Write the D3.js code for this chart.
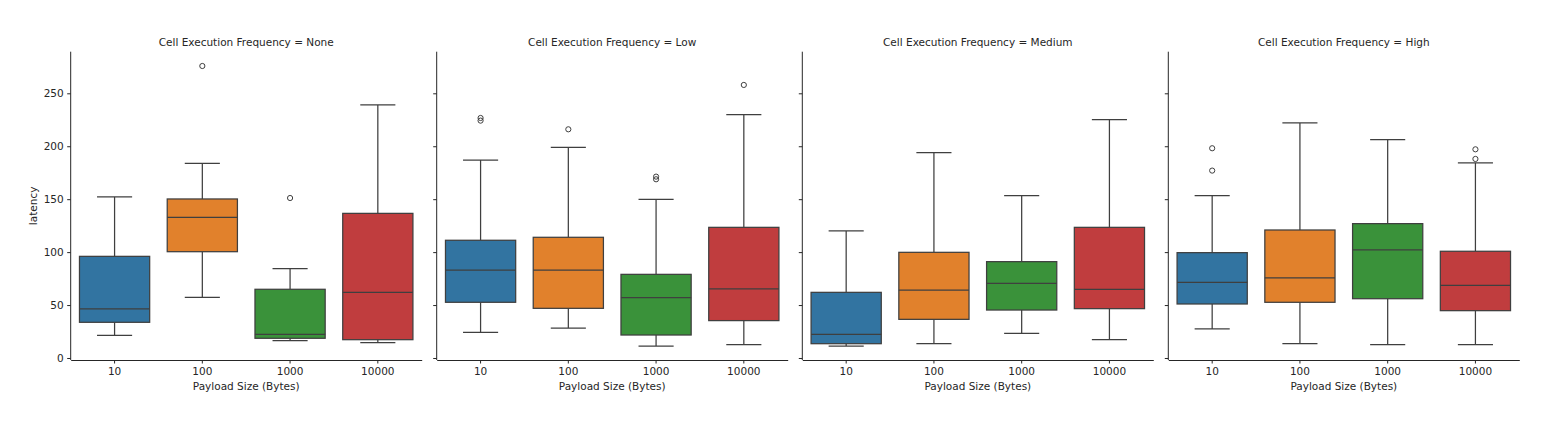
<!DOCTYPE html>
<html>
<head>
<meta charset="utf-8">
<script src="https://cdn.jsdelivr.net/npm/d3@7"></script>
<style>
  body { margin: 0; background: #fff; }
  text { font-family: "DejaVu Sans", sans-serif; fill: #262626; }
</style>
</head>
<body>
<script>
// Facets and categories
var facets = ["None", "Low", "Medium", "High"];
var payloads = ["10", "100", "1000", "10000"];
var colors = ["#3274a1", "#e1812c", "#3a923a", "#c03d3e"];
var yTicks = [0, 50, 100, 150, 200, 250];

// Box stats per facet, one row per payload: [low whisker, q1, median, q3, high whisker]
var statsNone   = [[21.4, 33.7, 46.3, 96.0, 152.1], [57.3, 100.4, 132.9, 150.2, 183.9], [16.4, 18.6, 22.4, 64.9, 84.4], [14.5, 17.3, 62.0, 136.6, 239.0]];
var statsLow    = [[24.2, 52.6, 83.1, 111.2, 187.0], [28.3, 46.9, 83.1, 114.0, 199.0], [11.3, 21.7, 57.0, 79.0, 149.9], [12.6, 35.3, 65.2, 123.4, 229.8]];
var statsMedium = [[11.3, 13.5, 22.4, 62.0, 120.0], [13.5, 36.5, 64.2, 99.8, 193.9], [23.3, 45.3, 70.5, 91.0, 153.3], [17.3, 46.6, 64.9, 123.4, 225.1]];
var statsHigh   = [[27.4, 51.0, 71.5, 99.5, 153.3], [13.5, 52.6, 75.6, 120.9, 222.0], [12.6, 56.0, 102.0, 126.9, 206.2], [12.6, 44.7, 68.7, 100.8, 184.2]];

// Outliers per facet, one list per payload
var outNone   = [[], [275.8], [151.1], []];
var outLow    = [[226.7, 224.2], [216.0], [171.3, 168.8], [257.9]];
var outMedium = [[], [], [], []];
var outHigh   = [[198.1, 177.0], [], [], [197.1, 188.0]];

var allStats = [statsNone, statsLow, statsMedium, statsHigh];
var allOut = [outNone, outLow, outMedium, outHigh];

var W = 1548, H = 438;
var panelLeft = [70.7, 436.7, 802.3, 1168.3];
var panelW = 351;
var plotTop = 51.7, plotBottom = 360;
var lineColor = "#3f3f3f";
var fontSize = "10.5px";

var svg = d3.select("body").append("svg")
  .attr("width", W).attr("height", H);

var y = d3.scaleLinear().domain([-1.9, 289.3]).range([plotBottom, plotTop]);

facets.forEach(function(f, i) {
  var g = svg.append("g").attr("transform", "translate(" + panelLeft[i] + ",0)");
  var x = d3.scaleBand().domain(payloads).range([0, panelW]).paddingInner(0.2).paddingOuter(0.1);
  var stats = allStats[i], outs = allOut[i];

  payloads.forEach(function(p, j) {
    var s = stats[j];
    var x0 = x(p), bw = x.bandwidth(), cx = x0 + bw / 2;
    // whiskers
    g.append("line").attr("x1", cx).attr("x2", cx).attr("y1", y(s[0])).attr("y2", y(s[1]))
      .attr("stroke", lineColor).attr("stroke-width", 1.25);
    g.append("line").attr("x1", cx).attr("x2", cx).attr("y1", y(s[3])).attr("y2", y(s[4]))
      .attr("stroke", lineColor).attr("stroke-width", 1.25);
    // caps
    [s[0], s[4]].forEach(function(v) {
      g.append("line").attr("x1", cx - bw / 4).attr("x2", cx + bw / 4).attr("y1", y(v)).attr("y2", y(v))
        .attr("stroke", lineColor).attr("stroke-width", 1.25);
    });
    // box
    g.append("rect").attr("x", x0).attr("width", bw)
      .attr("y", y(s[3])).attr("height", y(s[1]) - y(s[3]))
      .attr("fill", colors[j]).attr("stroke", lineColor).attr("stroke-width", 1.25);
    // median
    g.append("line").attr("x1", x0).attr("x2", x0 + bw).attr("y1", y(s[2])).attr("y2", y(s[2]))
      .attr("stroke", lineColor).attr("stroke-width", 1.25);
    // fliers
    outs[j].forEach(function(v) {
      g.append("circle").attr("cx", cx).attr("cy", y(v)).attr("r", 2.6)
        .attr("fill", "none").attr("stroke", lineColor).attr("stroke-width", 1);
    });
  });

  // x axis
  var xAxis = g.append("g").attr("transform", "translate(0," + plotBottom + ")")
    .call(d3.axisBottom(x).tickSize(3.5).tickPadding(4.5).tickSizeOuter(0));
  xAxis.select(".domain").attr("stroke", "#262626").attr("stroke-width", 1);
  xAxis.selectAll(".tick line").attr("stroke", "#262626");
  xAxis.selectAll("text").attr("font-size", fontSize).attr("font-family", "DejaVu Sans").attr("fill", "#262626");

  // y axis
  var yAxis = g.append("g")
    .call(d3.axisLeft(y).tickValues(yTicks).tickSize(3.5).tickPadding(3.5).tickSizeOuter(0)
      .tickFormat(i === 0 ? d3.format("d") : function() { return ""; }));
  yAxis.select(".domain").attr("stroke", "#262626").attr("stroke-width", 1)
    .attr("d", "M0," + plotBottom + "V" + plotTop);
  yAxis.selectAll(".tick line").attr("stroke", "#262626");
  yAxis.selectAll("text").attr("font-size", fontSize).attr("font-family", "DejaVu Sans").attr("fill", "#262626");

  // title
  g.append("text").attr("x", panelW / 2).attr("y", 46)
    .attr("text-anchor", "middle").attr("font-size", fontSize)
    .text("Cell Execution Frequency = " + f);

  // x label
  g.append("text").attr("x", panelW / 2).attr("y", 390)
    .attr("text-anchor", "middle").attr("font-size", fontSize)
    .text("Payload Size (Bytes)");
});

// y label
svg.append("text")
  .attr("transform", "translate(37," + ((plotTop + plotBottom) / 2) + ") rotate(-90)")
  .attr("text-anchor", "middle").attr("font-size", fontSize)
  .text("latency");
</script>
</body>
</html>
